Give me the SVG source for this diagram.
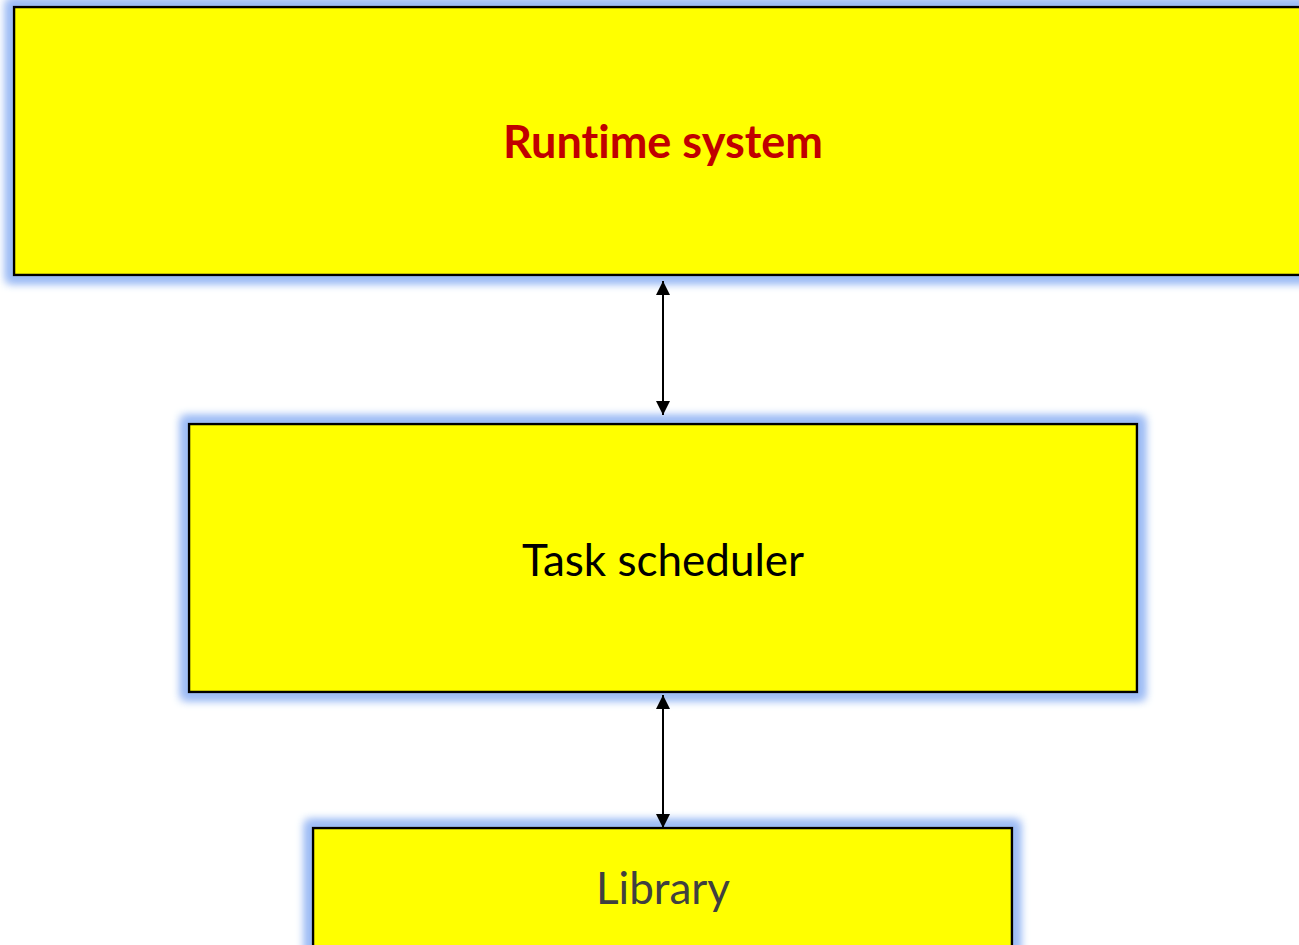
<svg xmlns="http://www.w3.org/2000/svg" width="1299" height="945" viewBox="0 0 1299 945">
<defs>
<filter id="glow" x="-10%" y="-20%" width="120%" height="140%">
<feMorphology in="SourceAlpha" operator="dilate" radius="6" result="d"/>
<feGaussianBlur in="d" stdDeviation="5" result="b"/>
<feFlood flood-color="#9dbcf5" result="c"/>
<feComposite in="c" in2="b" operator="in" result="g"/>
<feMerge><feMergeNode in="g"/><feMergeNode in="g"/><feMergeNode in="SourceGraphic"/></feMerge>
</filter>
<marker id="ah" viewBox="0 0 10 10" refX="10" refY="5" markerWidth="7.5" markerHeight="7" orient="auto-start-reverse" markerUnits="strokeWidth">
<path d="M0,0 L10,5 L0,10 z" fill="#000"/>
</marker>
<style>
.box{fill:#ffff00;stroke:#000;stroke-width:2.5;filter:url(#glow)}
.lbl{font-family:Lato,"Open Sans","Liberation Sans",sans-serif;text-anchor:middle;font-variant-ligatures:none;font-size:44px}
.conn{stroke:#000;stroke-width:2;fill:none;marker-start:url(#ah);marker-end:url(#ah)}
</style>
</defs>
<rect width="1299" height="945" fill="#fff"/>
<g id="runtime">
<rect class="box" x="14" y="7" width="1300" height="268"/>
<text class="lbl" x="663" y="158" font-weight="bold" fill="#c00000" style="font-size:45px">Runtime system</text>
</g>
<g id="scheduler">
<rect class="box" x="189" y="424" width="948" height="268"/>
<text class="lbl" x="663" y="576" fill="#000">Task scheduler</text>
</g>
<g id="library">
<rect class="box" x="313" y="828" width="699" height="140"/>
<text class="lbl" x="663" y="904" fill="#404040">Library</text>
</g>
<g id="connectors">
<line class="conn" x1="663" y1="281" x2="663" y2="415"/>
<line class="conn" x1="663" y1="695" x2="663" y2="828"/>
</g>
</svg>
